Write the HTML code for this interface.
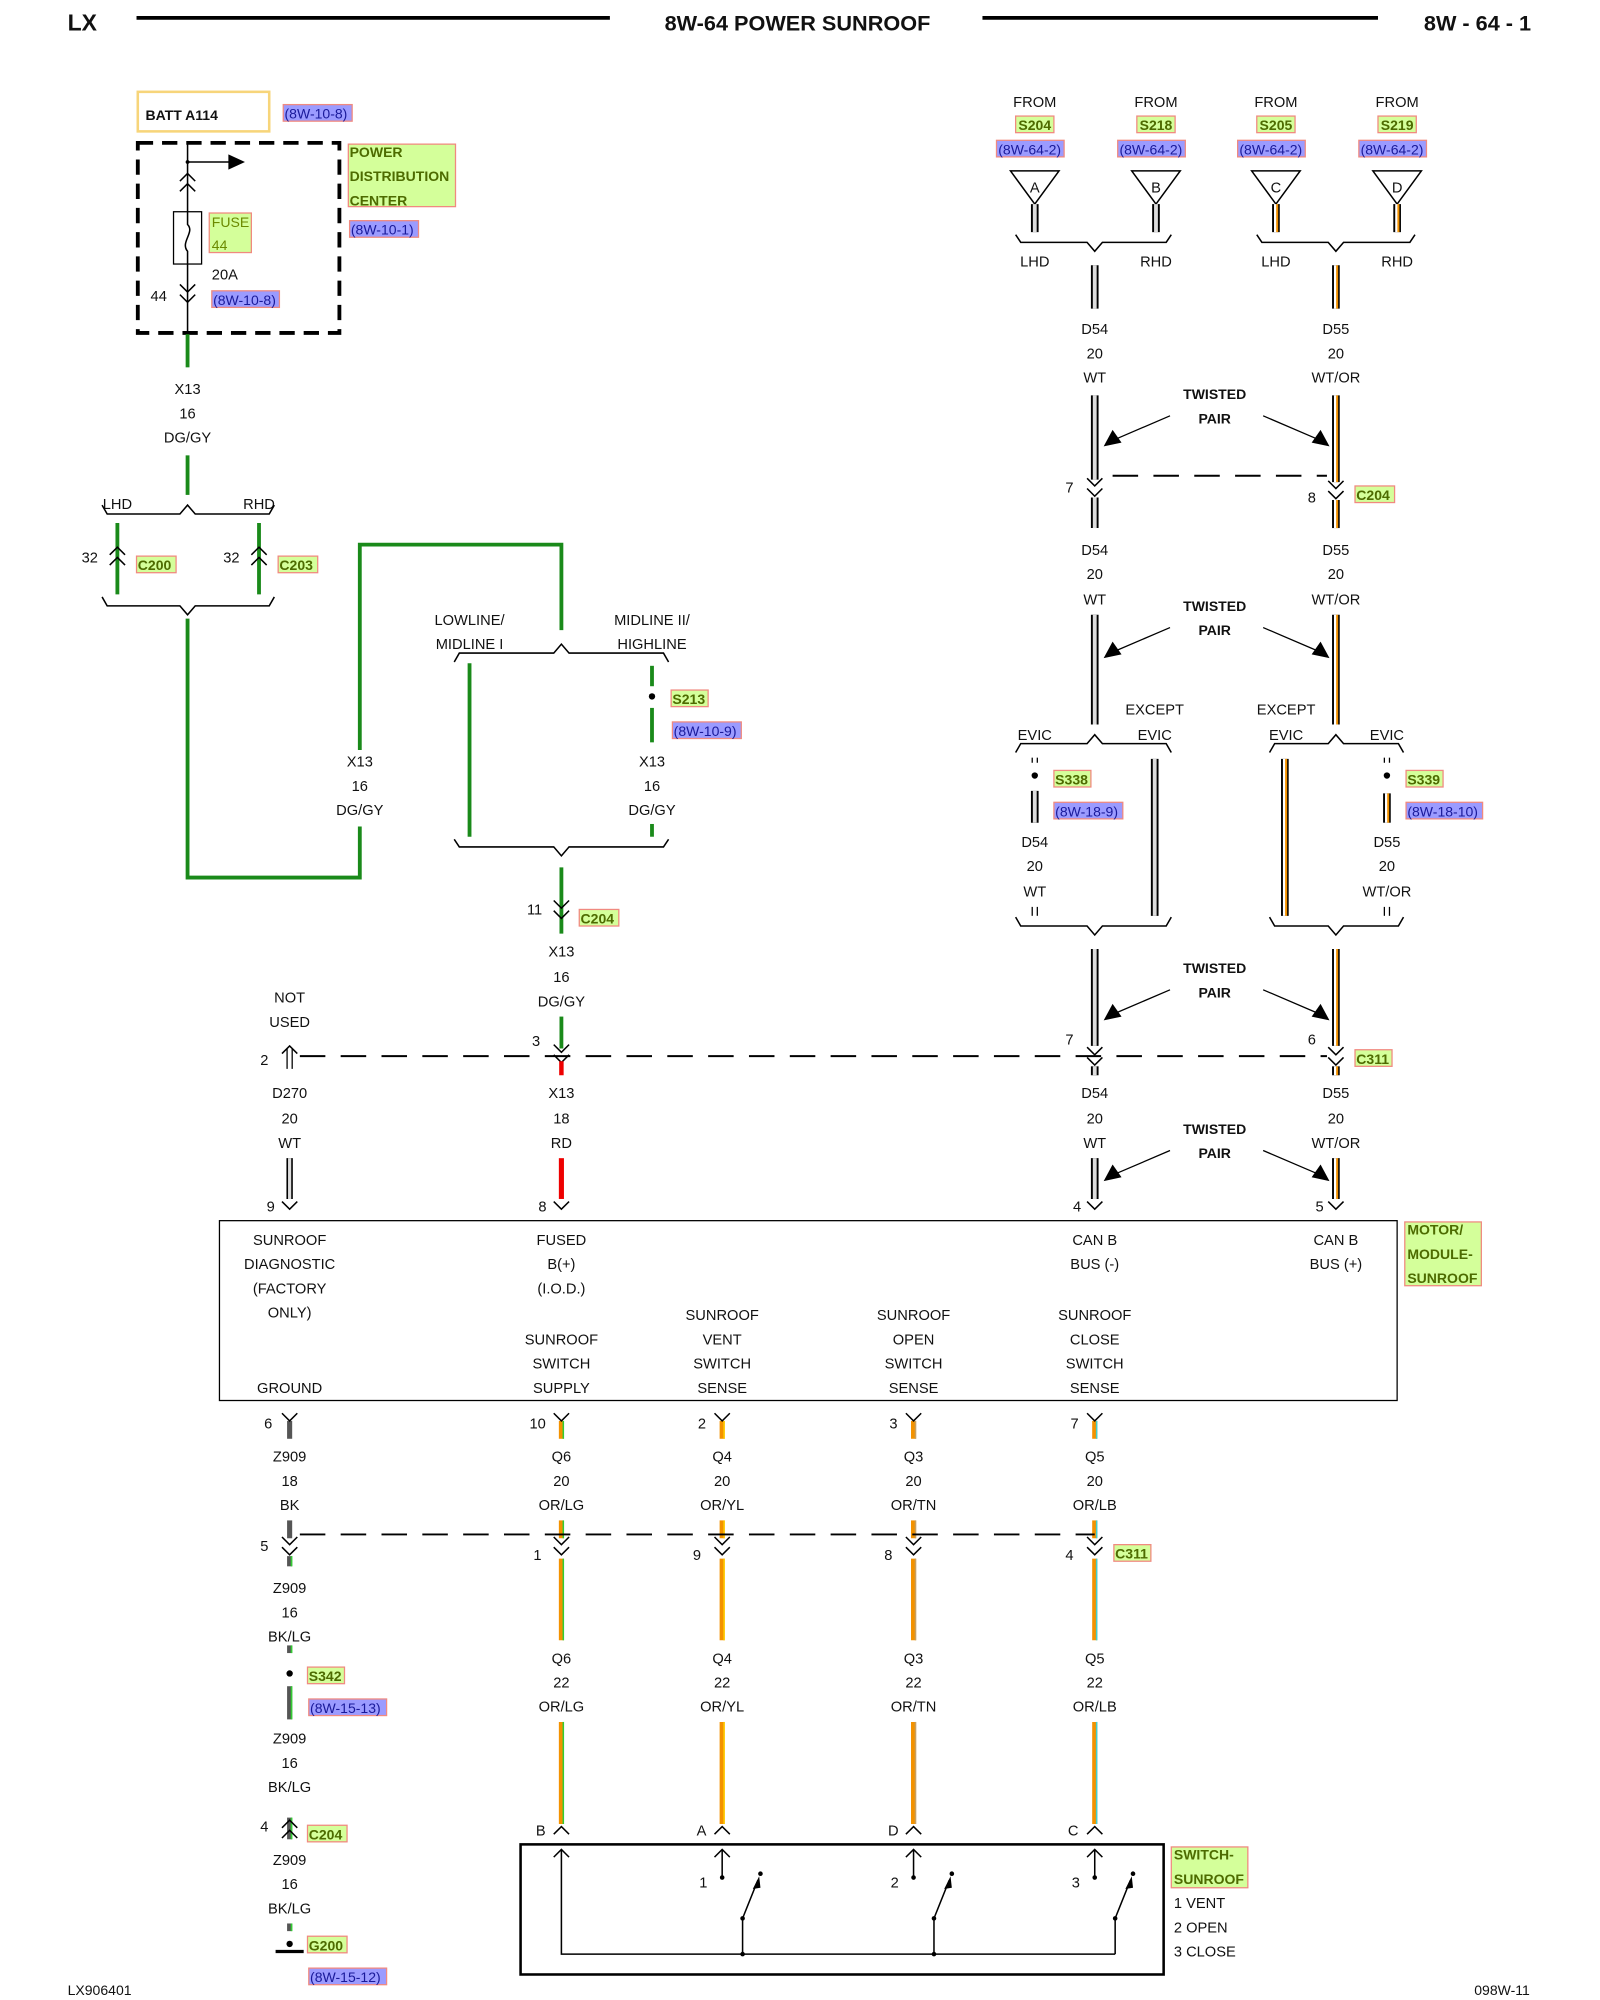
<!DOCTYPE html>
<html><head><meta charset="utf-8"><style>
html,body{margin:0;padding:0;background:#fff}
svg{display:block}
text{font-family:"Liberation Sans",sans-serif;font-size:11.5px;fill:#111}
.c{text-anchor:middle}
.b{font-weight:bold}
.g{fill:#4d6b00;font-weight:bold;font-size:11px}
.bl{fill:#1a1a9a;font-size:11px}
.gb{fill:#d4ff9a;stroke:#f08a80;stroke-width:1}
.bb{fill:#9b9bff;stroke:#f08a80;stroke-width:1}
.k{stroke:#000;fill:none;stroke-width:1.2}
.dash{stroke:#000;fill:none;stroke-width:1.5;stroke-dasharray:20,12}
</style></head><body>
<svg width="1600" height="2000" viewBox="0 0 1254 1568" preserveAspectRatio="none" xmlns="http://www.w3.org/2000/svg">
<defs>
<path id="cd" d="M-6,-7 L0,-1 L6,-7 M-6,1 L0,7 L6,1" stroke="#000" fill="none" stroke-width="1.2"/>
<path id="cu" d="M-6,7 L0,1 L6,7 M-6,-1 L0,-7 L6,-1" stroke="#000" fill="none" stroke-width="1.2"/>
<path id="cy" d="M-6,-6 L0,0 L6,-6" stroke="#000" fill="none" stroke-width="1.2"/>
<path id="ca" d="M-6,6 L0,0 L6,6" stroke="#000" fill="none" stroke-width="1.2"/>
</defs>
<!-- header -->
<text x="53" y="24" class="b" style="font-size:18px">LX</text>
<line x1="107" y1="14" x2="478" y2="14" stroke="#000" stroke-width="3"/>
<text x="625" y="24" class="b c" style="font-size:17px">8W-64 POWER SUNROOF</text>
<line x1="770" y1="14" x2="1080" y2="14" stroke="#000" stroke-width="3"/>
<text x="1200" y="24" class="b" style="font-size:17px;text-anchor:end">8W - 64 - 1</text>

<!-- BATT / PDC -->
<rect x="108" y="72" width="103" height="31" fill="#fff" stroke="#f7d57a" stroke-width="2"/>
<text x="114" y="94" class="b" style="font-size:11px">BATT A114</text>
<rect x="222" y="82" width="54" height="13" class="bb"/><text x="223" y="93" class="bl">(8W-10-8)</text>
<rect x="108" y="112" width="158" height="149" fill="none" stroke="#000" stroke-width="3" stroke-dasharray="12,7"/>
<line x1="147" y1="112" x2="147" y2="261" class="k"/>
<circle cx="147" cy="127" r="1.5"/>
<line x1="147" y1="127" x2="180" y2="127" class="k"/>
<path d="M179,121 L192,127 L179,133Z"/>
<use href="#cu" x="147" y="143"/>
<rect x="136" y="166" width="22" height="41" fill="#fff" stroke="#000"/>
<path d="M147,166 V176 C153,182 141,190 147,197 V207" class="k"/>
<rect x="164" y="167" width="33" height="31" class="gb"/>
<text x="166" y="178" style="fill:#6b8a00;font-size:11px">FUSE</text><text x="166" y="196" style="fill:#6b8a00;font-size:11px">44</text>
<text x="166" y="219">20A</text>
<text x="118" y="236">44</text>
<use href="#cd" x="147" y="230"/>
<rect x="166" y="228" width="53" height="13" class="bb"/><text x="167" y="239" class="bl">(8W-10-8)</text>
<rect x="273" y="113" width="84" height="49" class="gb"/>
<text x="274" y="123" class="g">POWER</text><text x="274" y="142" class="g">DISTRIBUTION</text><text x="274" y="161" class="g">CENTER</text>
<rect x="274" y="173" width="54" height="13" class="bb"/><text x="275" y="184" class="bl">(8W-10-1)</text>

<!-- left green X13 -->
<g stroke="#1a8a1a" stroke-width="3" fill="none">
<line x1="147" y1="262" x2="147" y2="288"/>
<line x1="147" y1="357" x2="147" y2="388"/>
<line x1="92" y1="410" x2="92" y2="466"/>
<line x1="203" y1="410" x2="203" y2="466"/>
<polyline points="147,485 147,688 282,688 282,648"/>
<polyline points="282,588 282,427 440,427 440,494"/>
<line x1="368" y1="520" x2="368" y2="656"/>
<line x1="511" y1="522" x2="511" y2="538"/>
<line x1="511" y1="555" x2="511" y2="582"/>
<line x1="511" y1="646" x2="511" y2="656"/>
<line x1="440" y1="680" x2="440" y2="732"/>
<line x1="440" y1="797" x2="440" y2="822"/>
</g>
<text x="147" y="309" class="c">X13</text><text x="147" y="328" class="c">16</text><text x="147" y="347" class="c">DG/GY</text>
<text x="92" y="399" class="c">LHD</text><text x="203" y="399" class="c">RHD</text>
<path d="M80,396 L84,403 H141 L147,396 L153,403 H211 L215,396" class="k"/>
<use href="#cu" x="92" y="436"/><use href="#cu" x="203" y="436"/>
<text x="64" y="441">32</text><text x="175" y="441">32</text>
<rect x="107" y="436" width="31" height="13" class="gb"/><text x="108" y="447" class="g">C200</text>
<rect x="218" y="436" width="31" height="13" class="gb"/><text x="219" y="447" class="g">C203</text>
<path d="M80,468 L84,475 H141 L147,482 L153,475 H211 L215,468" class="k"/>
<text x="282" y="601" class="c">X13</text><text x="282" y="620" class="c">16</text><text x="282" y="639" class="c">DG/GY</text>
<text x="368" y="490" class="c">LOWLINE/</text><text x="368" y="509" class="c">MIDLINE I</text>
<text x="511" y="490" class="c">MIDLINE II/</text><text x="511" y="509" class="c">HIGHLINE</text>
<path d="M356,519 L360,512 H434 L440,505 L446,512 H520 L524,519" class="k"/>
<circle cx="511" cy="546" r="2.5"/>
<rect x="526" y="541" width="29" height="13" class="gb"/><text x="527" y="552" class="g">S213</text>
<rect x="527" y="566" width="54" height="13" class="bb"/><text x="528" y="577" class="bl">(8W-10-9)</text>
<text x="511" y="601" class="c">X13</text><text x="511" y="620" class="c">16</text><text x="511" y="639" class="c">DG/GY</text>
<path d="M356,658 L360,664 H434 L440,671 L446,664 H520 L524,658" class="k"/>
<use href="#cd" x="440" y="713"/>
<text x="413" y="717">11</text>
<rect x="454" y="713" width="31" height="13" class="gb"/><text x="455" y="724" class="g">C204</text>
<text x="440" y="750" class="c">X13</text><text x="440" y="770" class="c">16</text><text x="440" y="789" class="c">DG/GY</text>

<!-- row 828 -->
<line x1="235" y1="828" x2="1040" y2="828" class="dash"/>
<text x="227" y="786" class="c">NOT</text><text x="227" y="805" class="c">USED</text>
<text x="204" y="835">2</text>
<line x1="225" y1="822" x2="225" y2="838" stroke="#000" stroke-width="1"/><line x1="229" y1="822" x2="229" y2="838" stroke="#000" stroke-width="1"/>
<use href="#ca" x="227" y="820"/>
<text x="417" y="820">3</text>
<use href="#cd" x="440" y="826"/>
<line x1="440" y1="832" x2="440" y2="843" stroke="#e00" stroke-width="3.5"/>
<text x="227" y="861" class="c">D270</text><text x="227" y="881" class="c">20</text><text x="227" y="900" class="c">WT</text>
<text x="440" y="861" class="c">X13</text><text x="440" y="881" class="c">18</text><text x="440" y="900" class="c">RD</text>
<line x1="227" y1="908" x2="227" y2="940" stroke="#000" stroke-width="5"/><line x1="227" y1="908" x2="227" y2="940" stroke="#ddd" stroke-width="2.5"/>
<line x1="440" y1="908" x2="440" y2="940" stroke="#e00" stroke-width="4"/>
<text x="209" y="950">9</text><use href="#cy" x="227" y="948"/>
<text x="422" y="950">8</text><use href="#cy" x="440" y="948"/>

<!-- right top sources -->
<text x="811" y="84" class="c">FROM</text><text x="906" y="84" class="c">FROM</text><text x="1000" y="84" class="c">FROM</text><text x="1095" y="84" class="c">FROM</text>
<rect x="796" y="91" width="30" height="13" class="gb"/><text x="811" y="102" class="g c">S204</text>
<rect x="891" y="91" width="30" height="13" class="gb"/><text x="906" y="102" class="g c">S218</text>
<rect x="985" y="91" width="30" height="13" class="gb"/><text x="1000" y="102" class="g c">S205</text>
<rect x="1080" y="91" width="30" height="13" class="gb"/><text x="1095" y="102" class="g c">S219</text>
<rect x="781" y="110" width="53" height="13" class="bb"/><text x="807" y="121" class="bl c">(8W-64-2)</text>
<rect x="876" y="110" width="53" height="13" class="bb"/><text x="902" y="121" class="bl c">(8W-64-2)</text>
<rect x="970" y="110" width="53" height="13" class="bb"/><text x="996" y="121" class="bl c">(8W-64-2)</text>
<rect x="1065" y="110" width="53" height="13" class="bb"/><text x="1091" y="121" class="bl c">(8W-64-2)</text>
<g fill="#fff" stroke="#000" stroke-width="1.2">
<path d="M792,134 H830 L811,160Z"/><path d="M887,134 H925 L906,160Z"/><path d="M981,134 H1019 L1000,160Z"/><path d="M1076,134 H1114 L1095,160Z"/>
</g>
<text x="811" y="151" class="c">A</text><text x="906" y="151" class="c">B</text><text x="1000" y="151" class="c">C</text><text x="1095" y="151" class="c">D</text>

<!-- WT wires -->
<g stroke="#000" stroke-width="6">
<line x1="811" y1="160" x2="811" y2="182"/><line x1="906" y1="160" x2="906" y2="182"/>
<line x1="1000" y1="160" x2="1000" y2="182"/><line x1="1095" y1="160" x2="1095" y2="182"/>
<line x1="858" y1="208" x2="858" y2="242"/><line x1="1047" y1="208" x2="1047" y2="242"/>
<line x1="858" y1="310" x2="858" y2="376"/><line x1="1047" y1="310" x2="1047" y2="378"/>
<line x1="858" y1="390" x2="858" y2="414"/><line x1="1047" y1="392" x2="1047" y2="414"/>
<line x1="858" y1="482" x2="858" y2="568"/><line x1="1047" y1="482" x2="1047" y2="568"/>
<line x1="811" y1="620" x2="811" y2="645"/><line x1="905" y1="595" x2="905" y2="718"/>
<line x1="1007" y1="595" x2="1007" y2="718"/><line x1="1087" y1="622" x2="1087" y2="645"/>
<line x1="858" y1="744" x2="858" y2="820"/><line x1="1047" y1="744" x2="1047" y2="820"/>
<line x1="858" y1="836" x2="858" y2="843"/><line x1="1047" y1="836" x2="1047" y2="843"/>
<line x1="858" y1="908" x2="858" y2="940"/><line x1="1047" y1="908" x2="1047" y2="940"/>
</g>
<g stroke="#ddd" stroke-width="3">
<line x1="811" y1="160" x2="811" y2="182"/><line x1="906" y1="160" x2="906" y2="182"/>
<line x1="858" y1="208" x2="858" y2="242"/><line x1="858" y1="310" x2="858" y2="376"/>
<line x1="858" y1="390" x2="858" y2="414"/><line x1="858" y1="482" x2="858" y2="568"/>
<line x1="811" y1="620" x2="811" y2="645"/><line x1="905" y1="595" x2="905" y2="718"/>
<line x1="858" y1="744" x2="858" y2="820"/><line x1="858" y1="836" x2="858" y2="843"/>
<line x1="858" y1="908" x2="858" y2="940"/>
</g>
<g stroke="#fff" stroke-width="3">
<line x1="1000" y1="160" x2="1000" y2="182"/><line x1="1095" y1="160" x2="1095" y2="182"/>
<line x1="1047" y1="208" x2="1047" y2="242"/><line x1="1047" y1="310" x2="1047" y2="378"/>
<line x1="1047" y1="392" x2="1047" y2="414"/><line x1="1047" y1="482" x2="1047" y2="568"/>
<line x1="1007" y1="595" x2="1007" y2="718"/><line x1="1087" y1="622" x2="1087" y2="645"/>
<line x1="1047" y1="744" x2="1047" y2="820"/><line x1="1047" y1="836" x2="1047" y2="843"/>
<line x1="1047" y1="908" x2="1047" y2="940"/>
</g>
<g stroke="#f39200" stroke-width="1.6">
<line x1="1001" y1="160" x2="1001" y2="182"/><line x1="1096" y1="160" x2="1096" y2="182"/>
<line x1="1048" y1="208" x2="1048" y2="242"/><line x1="1048" y1="310" x2="1048" y2="378"/>
<line x1="1048" y1="392" x2="1048" y2="414"/><line x1="1048" y1="482" x2="1048" y2="568"/>
<line x1="1008" y1="595" x2="1008" y2="718"/><line x1="1088" y1="622" x2="1088" y2="645"/>
<line x1="1048" y1="744" x2="1048" y2="820"/><line x1="1048" y1="836" x2="1048" y2="843"/>
<line x1="1048" y1="908" x2="1048" y2="940"/>
</g>
<path d="M796,184 L800,190 H852 L858,197 L864,190 H914 L918,184" class="k"/>
<path d="M985,184 L989,190 H1041 L1047,197 L1053,190 H1105 L1109,184" class="k"/>
<text x="811" y="209" class="c">LHD</text><text x="906" y="209" class="c">RHD</text>
<text x="1000" y="209" class="c">LHD</text><text x="1095" y="209" class="c">RHD</text>
<text x="858" y="262" class="c">D54</text><text x="858" y="281" class="c">20</text><text x="858" y="300" class="c">WT</text>
<text x="1047" y="262" class="c">D55</text><text x="1047" y="281" class="c">20</text><text x="1047" y="300" class="c">WT/OR</text>

<!-- twisted pair labels -->
<text x="952" y="313" class="c b" style="font-size:11px">TWISTED</text><text x="952" y="332" class="c b" style="font-size:11px">PAIR</text>
<text x="952" y="479" class="c b" style="font-size:11px">TWISTED</text><text x="952" y="498" class="c b" style="font-size:11px">PAIR</text>
<text x="952" y="763" class="c b" style="font-size:11px">TWISTED</text><text x="952" y="782" class="c b" style="font-size:11px">PAIR</text>
<text x="952" y="889" class="c b" style="font-size:11px">TWISTED</text><text x="952" y="908" class="c b" style="font-size:11px">PAIR</text>
<g stroke="#000" stroke-width="1">
<line x1="917" y1="326" x2="875" y2="344"/><line x1="990" y1="326" x2="1032" y2="344"/>
<line x1="917" y1="492" x2="875" y2="510"/><line x1="990" y1="492" x2="1032" y2="510"/>
<line x1="917" y1="776" x2="875" y2="794"/><line x1="990" y1="776" x2="1032" y2="794"/>
<line x1="917" y1="902" x2="875" y2="920"/><line x1="990" y1="902" x2="1032" y2="920"/>
</g>
<path d="M865,350 L872,337 L879,347Z"/><path d="M1042,350 L1028,347 L1035,337Z"/>
<path d="M865,516 L872,503 L879,513Z"/><path d="M1042,516 L1028,513 L1035,503Z"/>
<path d="M865,800 L872,787 L879,797Z"/><path d="M1042,800 L1028,797 L1035,787Z"/>
<path d="M865,926 L872,913 L879,923Z"/><path d="M1042,926 L1028,923 L1035,913Z"/>
<line x1="872" y1="373" x2="1040" y2="373" class="dash"/>
<use href="#cd" x="858" y="382"/><text x="835" y="386">7</text>
<use href="#cd" x="1047" y="384"/><text x="1025" y="394">8</text>
<rect x="1062" y="381" width="31" height="13" class="gb"/><text x="1063" y="392" class="g">C204</text>
<text x="858" y="435" class="c">D54</text><text x="858" y="454" class="c">20</text><text x="858" y="474" class="c">WT</text>
<text x="1047" y="435" class="c">D55</text><text x="1047" y="454" class="c">20</text><text x="1047" y="474" class="c">WT/OR</text>

<text x="905" y="560" class="c">EXCEPT</text><text x="905" y="580" class="c">EVIC</text><text x="811" y="580" class="c">EVIC</text>
<text x="1008" y="560" class="c">EXCEPT</text><text x="1008" y="580" class="c">EVIC</text><text x="1087" y="580" class="c">EVIC</text>
<path d="M796,590 L800,583 H852 L858,576 L864,583 H914 L918,590" class="k"/>
<path d="M995,590 L999,583 H1041 L1047,576 L1053,583 H1096 L1100,590" class="k"/>
<g stroke="#000" stroke-width="1"><line x1="809" y1="594" x2="809" y2="598"/><line x1="813" y1="594" x2="813" y2="598"/><line x1="1085" y1="594" x2="1085" y2="598"/><line x1="1089" y1="594" x2="1089" y2="598"/>
<line x1="809" y1="711" x2="809" y2="718"/><line x1="813" y1="711" x2="813" y2="718"/><line x1="1085" y1="711" x2="1085" y2="718"/><line x1="1089" y1="711" x2="1089" y2="718"/></g>
<circle cx="811" cy="608" r="2.5"/><circle cx="1087" cy="608" r="2.5"/>
<rect x="826" y="604" width="29" height="13" class="gb"/><text x="827" y="615" class="g">S338</text>
<rect x="826" y="629" width="54" height="13" class="bb"/><text x="827" y="640" class="bl">(8W-18-9)</text>
<rect x="1102" y="604" width="29" height="13" class="gb"/><text x="1103" y="615" class="g">S339</text>
<rect x="1102" y="629" width="60" height="13" class="bb"/><text x="1103" y="640" class="bl">(8W-18-10)</text>
<text x="811" y="664" class="c">D54</text><text x="811" y="683" class="c">20</text><text x="811" y="703" class="c">WT</text>
<text x="1087" y="664" class="c">D55</text><text x="1087" y="683" class="c">20</text><text x="1087" y="703" class="c">WT/OR</text>
<path d="M796,719 L800,726 H852 L858,733 L864,726 H914 L918,719" class="k"/>
<path d="M995,719 L999,726 H1041 L1047,733 L1053,726 H1096 L1100,719" class="k"/>
<use href="#cd" x="858" y="828"/><text x="835" y="819">7</text>
<use href="#cd" x="1047" y="828"/><text x="1025" y="819">6</text>
<rect x="1062" y="823" width="29" height="13" class="gb"/><text x="1063" y="834" class="g">C311</text>
<text x="858" y="861" class="c">D54</text><text x="858" y="881" class="c">20</text><text x="858" y="900" class="c">WT</text>
<text x="1047" y="861" class="c">D55</text><text x="1047" y="881" class="c">20</text><text x="1047" y="900" class="c">WT/OR</text>
<text x="841" y="950">4</text><use href="#cy" x="858" y="948"/>
<text x="1031" y="950">5</text><use href="#cy" x="1047" y="948"/>

<!-- module -->
<rect x="172" y="957" width="923" height="141" fill="none" stroke="#000" stroke-width="1"/>
<rect x="1101" y="958" width="60" height="50" class="gb"/>
<text x="1103" y="968" class="g">MOTOR/</text><text x="1103" y="987" class="g">MODULE-</text><text x="1103" y="1006" class="g">SUNROOF</text>
<text x="227" y="976" class="c">SUNROOF</text><text x="227" y="995" class="c">DIAGNOSTIC</text><text x="227" y="1014" class="c">(FACTORY</text><text x="227" y="1033" class="c">ONLY)</text>
<text x="440" y="976" class="c">FUSED</text><text x="440" y="995" class="c">B(+)</text><text x="440" y="1014" class="c">(I.O.D.)</text>
<text x="858" y="976" class="c">CAN B</text><text x="858" y="995" class="c">BUS (-)</text>
<text x="1047" y="976" class="c">CAN B</text><text x="1047" y="995" class="c">BUS (+)</text>
<text x="566" y="1035" class="c">SUNROOF</text><text x="566" y="1054" class="c">VENT</text><text x="566" y="1073" class="c">SWITCH</text><text x="566" y="1092" class="c">SENSE</text>
<text x="716" y="1035" class="c">SUNROOF</text><text x="716" y="1054" class="c">OPEN</text><text x="716" y="1073" class="c">SWITCH</text><text x="716" y="1092" class="c">SENSE</text>
<text x="858" y="1035" class="c">SUNROOF</text><text x="858" y="1054" class="c">CLOSE</text><text x="858" y="1073" class="c">SWITCH</text><text x="858" y="1092" class="c">SENSE</text>
<text x="440" y="1054" class="c">SUNROOF</text><text x="440" y="1073" class="c">SWITCH</text><text x="440" y="1092" class="c">SUPPLY</text>
<text x="227" y="1092" class="c">GROUND</text>

<!-- bottom wires -->
<g stroke-width="4" stroke="#555">
<line x1="227" y1="1114" x2="227" y2="1128"/>
<line x1="227" y1="1192" x2="227" y2="1206"/>
<line x1="227" y1="1220" x2="227" y2="1228"/>
<line x1="227" y1="1290" x2="227" y2="1296"/>
<line x1="227" y1="1322" x2="227" y2="1348"/>
<line x1="227" y1="1425" x2="227" y2="1442"/>
<line x1="227" y1="1508" x2="227" y2="1514"/>
</g>
<g stroke="#3c3" stroke-width="1.3">
<line x1="228.5" y1="1220" x2="228.5" y2="1228"/><line x1="228.5" y1="1290" x2="228.5" y2="1296"/>
<line x1="228.5" y1="1322" x2="228.5" y2="1348"/><line x1="228.5" y1="1425" x2="228.5" y2="1442"/>
<line x1="228.5" y1="1508" x2="228.5" y2="1514"/>
</g>
<g stroke="#f39200" stroke-width="4">
<line x1="440" y1="1114" x2="440" y2="1128"/><line x1="566" y1="1114" x2="566" y2="1128"/><line x1="716" y1="1114" x2="716" y2="1128"/><line x1="858" y1="1114" x2="858" y2="1128"/>
<line x1="440" y1="1192" x2="440" y2="1206"/><line x1="566" y1="1192" x2="566" y2="1206"/><line x1="716" y1="1192" x2="716" y2="1206"/><line x1="858" y1="1192" x2="858" y2="1206"/>
<line x1="440" y1="1222" x2="440" y2="1286"/><line x1="566" y1="1222" x2="566" y2="1286"/><line x1="716" y1="1222" x2="716" y2="1286"/><line x1="858" y1="1222" x2="858" y2="1286"/>
<line x1="440" y1="1350" x2="440" y2="1430"/><line x1="566" y1="1350" x2="566" y2="1430"/><line x1="716" y1="1350" x2="716" y2="1430"/><line x1="858" y1="1350" x2="858" y2="1430"/>
</g>
<g stroke-width="1.2">
<g stroke="#3c3"><line x1="441.5" y1="1114" x2="441.5" y2="1128"/><line x1="441.5" y1="1192" x2="441.5" y2="1206"/><line x1="441.5" y1="1222" x2="441.5" y2="1286"/><line x1="441.5" y1="1350" x2="441.5" y2="1430"/></g>
<g stroke="#fc0"><line x1="567.5" y1="1114" x2="567.5" y2="1128"/><line x1="567.5" y1="1192" x2="567.5" y2="1206"/><line x1="567.5" y1="1222" x2="567.5" y2="1286"/><line x1="567.5" y1="1350" x2="567.5" y2="1430"/></g>
<g stroke="#c8a060"><line x1="717.5" y1="1114" x2="717.5" y2="1128"/><line x1="717.5" y1="1192" x2="717.5" y2="1206"/><line x1="717.5" y1="1222" x2="717.5" y2="1286"/><line x1="717.5" y1="1350" x2="717.5" y2="1430"/></g>
<g stroke="#4cc"><line x1="859.5" y1="1114" x2="859.5" y2="1128"/><line x1="859.5" y1="1192" x2="859.5" y2="1206"/><line x1="859.5" y1="1222" x2="859.5" y2="1286"/><line x1="859.5" y1="1350" x2="859.5" y2="1430"/></g>
</g>
<use href="#cy" x="227" y="1114"/><use href="#cy" x="440" y="1114"/><use href="#cy" x="566" y="1114"/><use href="#cy" x="716" y="1114"/><use href="#cy" x="858" y="1114"/>
<text x="207" y="1120">6</text><text x="415" y="1120">10</text><text x="547" y="1120">2</text><text x="697" y="1120">3</text><text x="839" y="1120">7</text>
<text x="227" y="1146" class="c">Z909</text><text x="227" y="1165" class="c">18</text><text x="227" y="1184" class="c">BK</text>
<text x="440" y="1146" class="c">Q6</text><text x="440" y="1165" class="c">20</text><text x="440" y="1184" class="c">OR/LG</text>
<text x="566" y="1146" class="c">Q4</text><text x="566" y="1165" class="c">20</text><text x="566" y="1184" class="c">OR/YL</text>
<text x="716" y="1146" class="c">Q3</text><text x="716" y="1165" class="c">20</text><text x="716" y="1184" class="c">OR/TN</text>
<text x="858" y="1146" class="c">Q5</text><text x="858" y="1165" class="c">20</text><text x="858" y="1184" class="c">OR/LB</text>
<line x1="235" y1="1203" x2="858" y2="1203" class="dash"/>
<use href="#cd" x="227" y="1212"/><use href="#cd" x="440" y="1212"/><use href="#cd" x="566" y="1212"/><use href="#cd" x="716" y="1212"/><use href="#cd" x="858" y="1212"/>
<text x="204" y="1216">5</text><text x="418" y="1223">1</text><text x="543" y="1223">9</text><text x="693" y="1223">8</text><text x="835" y="1223">4</text>
<rect x="873" y="1211" width="29" height="13" class="gb"/><text x="874" y="1222" class="g">C311</text>
<text x="227" y="1249" class="c">Z909</text><text x="227" y="1268" class="c">16</text><text x="227" y="1287" class="c">BK/LG</text>
<text x="440" y="1304" class="c">Q6</text><text x="440" y="1323" class="c">22</text><text x="440" y="1342" class="c">OR/LG</text>
<text x="566" y="1304" class="c">Q4</text><text x="566" y="1323" class="c">22</text><text x="566" y="1342" class="c">OR/YL</text>
<text x="716" y="1304" class="c">Q3</text><text x="716" y="1323" class="c">22</text><text x="716" y="1342" class="c">OR/TN</text>
<text x="858" y="1304" class="c">Q5</text><text x="858" y="1323" class="c">22</text><text x="858" y="1342" class="c">OR/LB</text>
<circle cx="227" cy="1312" r="2.5"/>
<rect x="241" y="1307" width="29" height="13" class="gb"/><text x="242" y="1318" class="g">S342</text>
<rect x="242" y="1332" width="61" height="13" class="bb"/><text x="243" y="1343" class="bl">(8W-15-13)</text>
<text x="227" y="1367" class="c">Z909</text><text x="227" y="1386" class="c">16</text><text x="227" y="1405" class="c">BK/LG</text>
<use href="#cu" x="227" y="1434"/><text x="204" y="1436">4</text>
<rect x="241" y="1431" width="31" height="13" class="gb"/><text x="242" y="1442" class="g">C204</text>
<text x="227" y="1462" class="c">Z909</text><text x="227" y="1481" class="c">16</text><text x="227" y="1500" class="c">BK/LG</text>
<circle cx="227" cy="1524" r="2.5"/><line x1="216" y1="1530" x2="238" y2="1530" stroke="#000" stroke-width="2.5"/>
<rect x="241" y="1518" width="31" height="13" class="gb"/><text x="242" y="1529" class="g">G200</text>
<rect x="242" y="1543" width="61" height="13" class="bb"/><text x="243" y="1554" class="bl">(8W-15-12)</text>

<!-- switch -->
<use href="#ca" x="440" y="1432"/><use href="#ca" x="566" y="1432"/><use href="#ca" x="716" y="1432"/><use href="#ca" x="858" y="1432"/>
<text x="420" y="1439">B</text><text x="546" y="1439">A</text><text x="696" y="1439">D</text><text x="837" y="1439">C</text>
<rect x="408" y="1446" width="504" height="102" fill="none" stroke="#000" stroke-width="2"/>
<use href="#ca" x="440" y="1450"/><use href="#ca" x="566" y="1450"/><use href="#ca" x="716" y="1450"/><use href="#ca" x="858" y="1450"/>
<path d="M440,1450 V1532 H874 M566,1450 V1472 M716,1450 V1472 M858,1450 V1472 M582,1532 V1504 M732,1532 V1504 M874,1532 V1504" class="k"/>
<circle cx="566" cy="1472" r="1.8"/><circle cx="716" cy="1472" r="1.8"/><circle cx="858" cy="1472" r="1.8"/>
<circle cx="596" cy="1469" r="1.8"/><circle cx="746" cy="1469" r="1.8"/><circle cx="888" cy="1469" r="1.8"/>
<circle cx="582" cy="1504" r="1.8"/><circle cx="732" cy="1504" r="1.8"/><circle cx="874" cy="1504" r="1.8"/>
<circle cx="582" cy="1532" r="1.8"/><circle cx="732" cy="1532" r="1.8"/>
<path d="M582,1504 L594,1474 M732,1504 L744,1474 M874,1504 L886,1474" class="k"/>
<path d="M595,1471 L590,1481 L596,1480Z M745,1471 L740,1481 L746,1480Z M887,1471 L882,1481 L888,1480Z"/>
<text x="548" y="1480">1</text><text x="698" y="1480">2</text><text x="840" y="1480">3</text>
<rect x="918" y="1448" width="60" height="32" class="gb"/>
<text x="920" y="1458" class="g">SWITCH-</text><text x="920" y="1477" class="g">SUNROOF</text>
<text x="920" y="1496">1 VENT</text><text x="920" y="1515">2 OPEN</text><text x="920" y="1534">3 CLOSE</text>
<text x="53" y="1564" style="font-size:11px">LX906401</text>
<text x="1199" y="1564" style="font-size:11px;text-anchor:end">098W-11</text>
</svg>
</body></html>
